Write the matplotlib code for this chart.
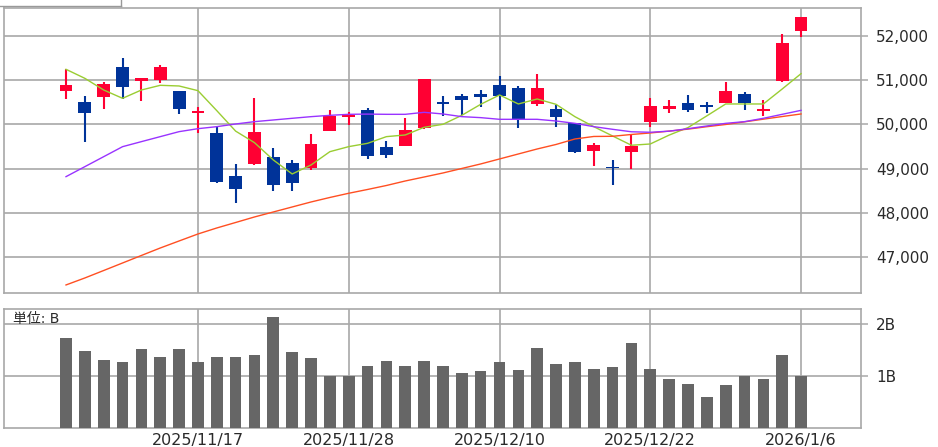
import matplotlib
matplotlib.use("Agg")
import matplotlib.pyplot as plt
from matplotlib.lines import Line2D
import numpy as np

plt.rcParams['font.family'] = ['DejaVu Sans', 'Noto Sans CJK JP']

# trading days shown on the chart
dates = ["2025/11/6", "2025/11/7", "2025/11/10", "2025/11/11", "2025/11/12",
         "2025/11/13", "2025/11/14", "2025/11/17", "2025/11/18", "2025/11/19",
         "2025/11/20", "2025/11/21", "2025/11/25", "2025/11/26", "2025/11/27",
         "2025/11/28", "2025/12/1", "2025/12/2", "2025/12/3", "2025/12/4",
         "2025/12/5", "2025/12/8", "2025/12/9", "2025/12/10", "2025/12/11",
         "2025/12/12", "2025/12/15", "2025/12/16", "2025/12/17", "2025/12/18",
         "2025/12/19", "2025/12/22", "2025/12/23", "2025/12/24", "2025/12/25",
         "2025/12/26", "2025/12/29", "2025/12/30", "2026/1/5", "2026/1/6"]

opens = [50765, 50516, 50630, 51293, 50984, 51005, 50750, 50268, 49800, 48827,
         49106, 49272, 49122, 49008, 49861, 50177, 50320, 49499, 49514, 49921,
         50516, 50645, 50690, 50886, 50826, 50464, 50343, 50026, 49408, 49046,
         49370, 50049, 50358, 50494, 50441, 50494, 50690, 50298, 50992, 52122]
closes = [50886, 50253, 50916, 50840, 51052, 51293, 50358, 50313, 48692, 48533,
          49838, 48639, 48669, 49566, 50192, 50222, 49295, 49303, 49876, 51029,
          50456, 50554, 50615, 50645, 50117, 50826, 50162, 49370, 49536, 49008,
          49514, 50418, 50418, 50328, 50388, 50758, 50494, 50351, 51851, 52424]
highs = [51248, 50645, 50969, 51497, 51059, 51338, 50758, 50403, 49966, 49099,
         50592, 49476, 49197, 49778, 50328, 50275, 50381, 49627, 50155, 51040,
         50652, 50690, 50780, 51096, 50871, 51135, 50441, 50026, 49574, 49197,
         49763, 50592, 50554, 50660, 50516, 50969, 50735, 50554, 52047, 52440]
lows = [50569, 49612, 50358, 50569, 50532, 50946, 50230, 49815, 48669, 48232,
        49090, 48496, 48496, 48971, 49861, 49989, 49212, 49242, 49514, 49906,
        50192, 50207, 50403, 50328, 49913, 50426, 49951, 49348, 49069, 48631,
        48998, 49951, 50253, 50290, 50253, 50494, 50328, 50192, 50969, 51986]

# moving averages
ma5 = [51248, 51044, 50780, 50592, 50780, 50886, 50871, 50765, 50313, 49850,
       49589, 49197, 48880, 49084, 49385, 49499, 49574, 49725, 49763, 49936,
       50004, 50207, 50456, 50667, 50464, 50577, 50456, 50177, 49951, 49740,
       49530, 49559, 49760, 49930, 50195, 50464, 50464, 50464, 50803, 51150]
ma25 = [48820, 49046, 49272, 49498, 49612, 49725, 49838, 49905, 49951, 50011,
        50064, 50102, 50140, 50177, 50207, 50230, 50235, 50230, 50230, 50275,
        50238, 50177, 50155, 50117, 50117, 50117, 50079, 50026, 49951, 49891,
        49835, 49824, 49849, 49905, 49966, 50026, 50064, 50140, 50230, 50320]
ma75 = [46370, 46528, 46697, 46867, 47037, 47206, 47365, 47523, 47659, 47783,
        47908, 48021, 48134, 48247, 48349, 48444, 48530, 48620, 48722, 48812,
        48903, 49005, 49107, 49220, 49333, 49446, 49548, 49672, 49729, 49733,
        49774, 49808, 49850, 49895, 49950, 50000, 50060, 50120, 50180, 50238]

# volume in billions
volume = [1.725, 1.487, 1.314, 1.263, 1.519, 1.372, 1.519, 1.263, 1.372, 1.372,
          1.404, 2.128, 1.455, 1.340, 0.994, 0.994, 1.199, 1.282, 1.199, 1.282,
          1.199, 1.058, 1.090, 1.263, 1.115, 1.545, 1.231, 1.263, 1.141, 1.173,
          1.635, 1.141, 0.936, 0.853, 0.596, 0.821, 0.994, 0.936, 1.404, 0.994]

date_ticks = ["2025/11/17", "2025/11/28", "2025/12/10", "2025/12/22", "2026/1/6"]
price_ticks = [47000, 48000, 49000, 50000, 51000, 52000]
volume_ticks = [1, 2]
volume_labels = ["1B", "2B"]

UP = "#ff0033"
DOWN = "#003399"
GRID = "#a8a8a8"
TEXT = "#2a2a2a"

W, H = 938, 447
fig = plt.figure(figsize=(W / 100, H / 100), dpi=100)


def box(l, t, r, b):
    return [l / W, 1 - b / H, (r - l) / W, (b - t) / H]


ax = fig.add_axes(box(4, 8, 861, 293))
axv = fig.add_axes(box(4, 309, 861, 428))

x = np.arange(len(dates))
o = np.array(opens)
c = np.array(closes)
col = np.where(c >= o, UP, DOWN)
xt = [dates.index(d) for d in date_ticks]

# candles
ax.vlines(x, lows, highs, colors=col, linewidth=1.5, zorder=3)
ax.bar(x, np.maximum(np.abs(c - o), 30), bottom=np.minimum(o, c),
       width=0.68, color=col, zorder=4)

# moving averages
ax.plot(x, ma5, color="#9acd32", lw=1.0, zorder=5)
ax.plot(x, ma75, color="#ff4f22", lw=1.0, zorder=5)
ax.plot(x, ma25, color="#9933ff", lw=1.0, zorder=5)

# volume
axv.bar(x, volume, width=0.62, color="#666666", zorder=3)
axv.text(0.01, 0.975, "単位: B", transform=axv.transAxes, ha="left", va="top",
         fontsize=10, color=TEXT, zorder=6)

for a in (ax, axv):
    a.set_xlim(-3.29, 42.18)
    a.set_xticks(xt)
    a.set_axisbelow(True)
    a.grid(True, color=GRID, lw=1.2)
    a.yaxis.tick_right()
    a.tick_params(axis="y", length=5, width=1.1, color=GRID, pad=6,
                  labelsize=11, labelcolor=TEXT)
    for s in a.spines.values():
        s.set_color(GRID)
        s.set_linewidth(1.2)

ax.set_ylim(46188, 52635)
ax.set_yticks(price_ticks)
ax.set_yticklabels([f"{v:,}" for v in price_ticks])
ax.tick_params(axis="x", length=0, labelbottom=False)

axv.set_ylim(0, 2.288)
axv.set_yticks(volume_ticks)
axv.set_yticklabels(volume_labels)
axv.set_xticklabels(date_ticks)
axv.tick_params(axis="x", length=0, pad=3.5, labelsize=11.5, labelcolor=TEXT)

# leftover tab outline at the top left
fig.add_artist(Line2D([0, 121 / W], [1 - 6 / H, 1 - 6 / H], color="#999999", lw=1))
fig.add_artist(Line2D([121 / W, 121 / W], [1, 1 - 6 / H], color="#999999", lw=1))

fig.savefig("out.png", dpi=100)
